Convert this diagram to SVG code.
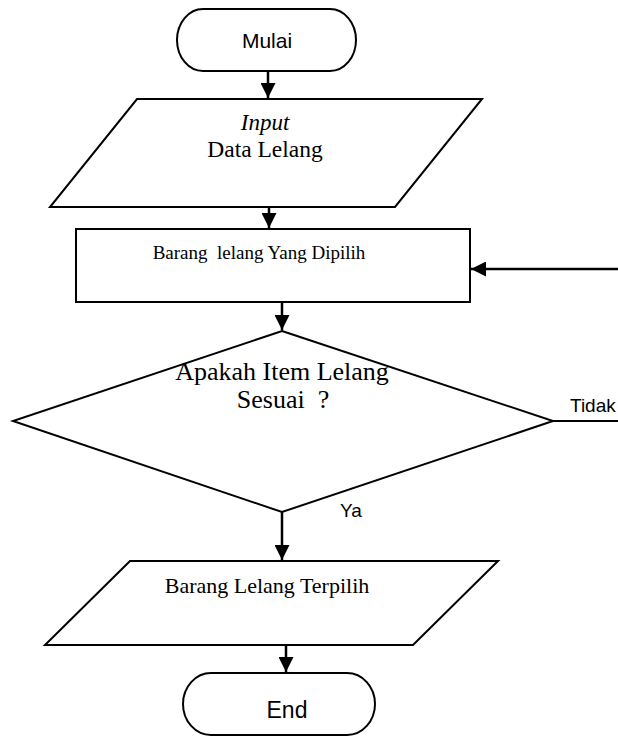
<svg xmlns="http://www.w3.org/2000/svg" width="618" height="736" viewBox="0 0 618 736">
  <style>
    .shape { fill: #ffffff; stroke: #000000; stroke-width: 2; }
    .link { fill: none; stroke: #000000; stroke-width: 2.5; }
    .plain { fill: none; stroke: #000000; stroke-width: 1.8; }
    .serif { font-family: "Liberation Serif", "Times New Roman", serif; fill: #000000; }
    .sans { font-family: "Liberation Sans", Arial, sans-serif; fill: #000000; }
  </style>
  <defs>
    <marker id="arrowBig" viewBox="0 0 15 15" refX="15" refY="7.5" markerWidth="15" markerHeight="15" markerUnits="userSpaceOnUse" orient="auto">
      <path d="M0,0 L15,7.5 L0,15 Z" fill="#000000"/>
    </marker>
  </defs>

  <!-- connectors -->
  <g id="connectors">
    <line class="link" x1="268" y1="71" x2="268" y2="98" marker-end="url(#arrowBig)"/>
    <line class="link" x1="269" y1="207" x2="269" y2="228" marker-end="url(#arrowBig)"/>
    <line class="link" x1="282" y1="302" x2="282" y2="330" marker-end="url(#arrowBig)"/>
    <line class="link" x1="282" y1="512" x2="282" y2="560" marker-end="url(#arrowBig)"/>
    <line class="link" x1="286" y1="645" x2="286" y2="672" marker-end="url(#arrowBig)"/>
    <line class="plain" x1="553" y1="421" x2="618" y2="421"/>
    <line class="link" x1="618" y1="269" x2="471" y2="269" marker-end="url(#arrowBig)"/>
    <text class="sans" x="570" y="412" font-size="19">Tidak</text>
    <text class="sans" x="340" y="517" font-size="19">Ya</text>
  </g>

  <!-- start -->
  <g id="start">
    <rect class="shape" x="177" y="9" width="179" height="62" rx="26" ry="31"/>
    <text class="sans" x="267" y="48" font-size="21" text-anchor="middle">Mulai</text>
  </g>

  <!-- input data -->
  <g id="input-data">
    <polygon class="shape" points="137,99 482,99 395,207 50,207"/>
    <text class="serif" x="265" y="130" font-size="23" font-style="italic" text-anchor="middle">Input</text>
    <text class="serif" x="265" y="157" font-size="23.5" text-anchor="middle">Data Lelang</text>
  </g>

  <!-- process -->
  <g id="selected-item">
    <rect class="shape" x="76" y="229" width="394" height="73"/>
    <text class="serif" x="259" y="259" font-size="19" text-anchor="middle" xml:space="preserve">Barang  lelang Yang Dipilih</text>
  </g>

  <!-- decision -->
  <g id="decision">
    <polygon class="shape" points="282,331 553,421 282,512 13,421"/>
    <text class="serif" x="282" y="380" font-size="26" text-anchor="middle">Apakah Item Lelang</text>
    <text class="serif" x="283" y="408" font-size="26" text-anchor="middle" xml:space="preserve">Sesuai  ?</text>
  </g>

  <!-- output -->
  <g id="chosen-item">
    <polygon class="shape" points="130,561 498,561 413,645 45,645"/>
    <text class="serif" x="267" y="593" font-size="22" text-anchor="middle">Barang Lelang Terpilih</text>
  </g>

  <!-- end -->
  <g id="end">
    <rect class="shape" x="183" y="673" width="192" height="62" rx="28" ry="31"/>
    <text class="sans" x="287" y="718" font-size="23" text-anchor="middle">End</text>
  </g>
</svg>
